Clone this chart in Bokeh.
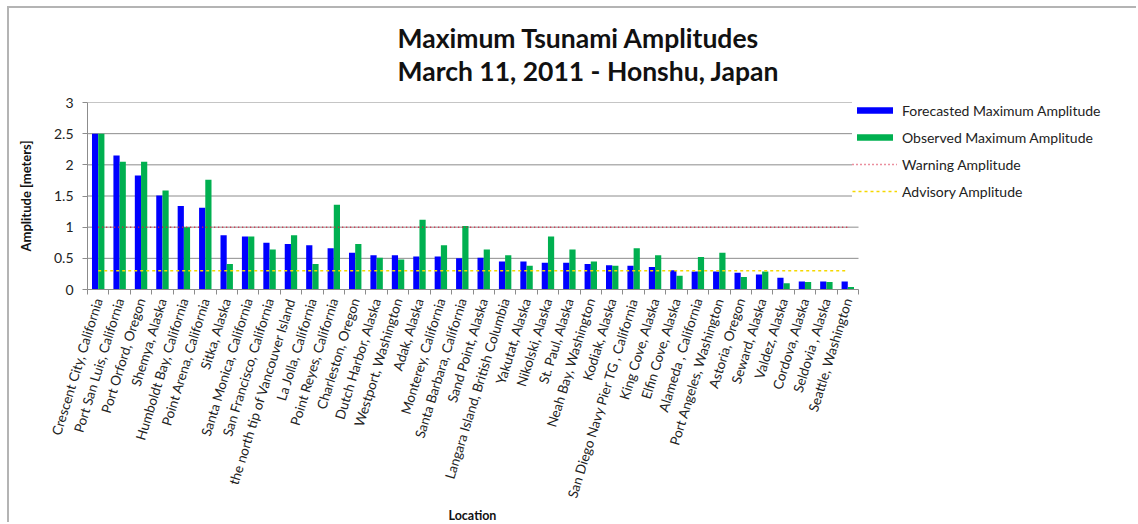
from bokeh.plotting import figure
from bokeh.models import (Range1d, FixedTicker, NumeralTickFormatter, Legend, LegendItem,
                          Title, ColumnDataSource)
from bokeh.transform import dodge
from bokeh.embed import file_html
from bokeh.resources import INLINE

locations = [
    "Crescent City, California", "Port San Luis, California", "Port Orford, Oregon",
    "Shemya, Alaska", "Humboldt Bay, California", "Point Arena, California",
    "Sitka, Alaska", "Santa Monica, California", "San Francisco, California",
    "the north tip of Vancouver Island", "La Jolla, California", "Point Reyes, California",
    "Charleston, Oregon", "Dutch Harbor, Alaska", "Westport, Washington",
    "Adak, Alaska", "Monterey, California", "Santa Barbara, California",
    "Sand Point, Alaska", "Langara Island, British Columbia", "Yakutat, Alaska",
    "Nikolski, Alaska", "St. Paul, Alaska", "Neah Bay, Washington",
    "Kodiak, Alaska", "San Diego Navy Pier TG , California", "King Cove, Alaska",
    "Elfin Cove, Alaska", "Alameda , California", "Port Angeles, Washington",
    "Astoria, Oregon", "Seward, Alaska", "Valdez, Alaska",
    "Cordova, Alaska", "Seldovia , Alaska", "Seattle, Washington",
]
forecasted = [2.50, 2.15, 1.83, 1.51, 1.34, 1.31, 0.87, 0.85, 0.75, 0.73, 0.71, 0.66,
              0.59, 0.55, 0.55, 0.53, 0.53, 0.50, 0.51, 0.45, 0.45, 0.43, 0.43, 0.41,
              0.39, 0.38, 0.36, 0.31, 0.29, 0.29, 0.27, 0.24, 0.19, 0.13, 0.13, 0.13]
observed = [2.50, 2.05, 2.05, 1.59, 1.00, 1.76, 0.41, 0.85, 0.64, 0.87, 0.41, 1.36,
            0.73, 0.51, 0.48, 1.12, 0.71, 1.02, 0.64, 0.55, 0.38, 0.85, 0.64, 0.45,
            0.38, 0.66, 0.55, 0.22, 0.52, 0.59, 0.20, 0.29, 0.10, 0.12, 0.12, 0.04]
warning_amplitude = 1.0
advisory_amplitude = 0.3
y_ticks = [0, 0.5, 1, 1.5, 2, 2.5, 3]
title_lines = ["Maximum Tsunami Amplitudes", "March 11, 2011 - Honshu, Japan"]
x_axis_title = "Location"
y_axis_title = "Amplitude [meters]"

n = len(locations)
idx = list(range(n))
src = ColumnDataSource(dict(
    x=idx, forecasted=forecasted, observed=observed,
    warning=[warning_amplitude] * n, advisory=[advisory_amplitude] * n,
))

FONT = "Lato"
W, H = 1129, 516
LEFT, TOP, BOTTOM = 78, 94, 235
BARS_W = 771          # pixel width occupied by the categories
FRAME_W = W - LEFT    # frame extends to the right edge (legend lives inside it)
x_lo, x_hi = -0.5, n - 0.5

p = figure(width=W, height=H, output_backend="svg", toolbar_location=None,
           x_range=Range1d(x_lo, x_lo + n * FRAME_W / BARS_W), y_range=Range1d(0, 3),
           min_border_left=LEFT, min_border_right=0, min_border_top=TOP,
           min_border_bottom=BOTTOM)
p.styles = {"margin-left": "7px", "margin-top": "6px",
            "border-left": "2px solid #b4b4b4", "border-top": "2px solid #b4b4b4"}
p.outline_line_color = None
p.background_fill_color = "white"
p.border_fill_color = "white"

# horizontal gridlines, limited to the category area
p.xgrid.grid_line_color = None
p.ygrid.grid_line_color = None
p.segment(x0=[x_lo] * len(y_ticks), x1=[x_hi] * len(y_ticks), y0=y_ticks, y1=y_ticks,
          line_color="#8c8c8c", line_width=1)

r_f = p.vbar(x=dodge("x", -0.145), top="forecasted", width=0.29, source=src,
             fill_color="#0000ff", line_color=None)
r_o = p.vbar(x=dodge("x", 0.145), top="observed", width=0.29, source=src,
             fill_color="#00b050", line_color=None)
r_w = p.line(x="x", y="warning", source=src, line_color="#d8203f", line_width=1.5,
             line_dash="1 3")
r_a = p.line(x="x", y="advisory", source=src, line_color="#f5d800", line_width=1.5,
             line_dash="3 3")

# y axis
p.yaxis.ticker = FixedTicker(ticks=y_ticks)
p.yaxis.formatter = NumeralTickFormatter(format="0.[0]")
p.yaxis.axis_line_color = "#8c8c8c"
p.yaxis.major_tick_line_color = "#8c8c8c"
p.yaxis.major_tick_out = 5
p.yaxis.major_tick_in = 0
p.yaxis.minor_tick_line_color = None
p.yaxis.major_label_standoff = 9
p.yaxis.major_label_text_font = FONT
p.yaxis.major_label_text_font_size = "14px"
p.yaxis.major_label_text_color = "#222222"
p.yaxis.axis_label = y_axis_title
p.yaxis.axis_label_text_font = FONT
p.yaxis.axis_label_text_font_style = "bold"
p.yaxis.axis_label_text_font_size = "13px"
p.yaxis.axis_label_text_color = "#111111"
p.yaxis.axis_label_standoff = 17

# x axis
p.xaxis.bounds = (x_lo, x_hi)
p.xaxis.ticker = FixedTicker(ticks=idx, minor_ticks=[i - 0.5 for i in range(n + 1)])
p.xaxis.major_label_overrides = {i: name for i, name in enumerate(locations)}
p.xaxis.major_label_orientation = 1.27
p.xaxis.major_label_standoff = 4
p.xaxis.major_tick_out = 0
p.xaxis.major_tick_in = 0
p.xaxis.minor_tick_out = 5
p.xaxis.minor_tick_in = 0
p.xaxis.minor_tick_line_color = "#8c8c8c"
p.xaxis.axis_line_color = "#8c8c8c"
p.xaxis.major_label_text_font = FONT
p.xaxis.major_label_text_font_size = "13.5px"
p.xaxis.major_label_text_color = "#222222"

# "Location" below the tick labels, centred under the categories
p.add_layout(Title(text=x_axis_title, align="left", offset=361, text_font=FONT,
                   text_font_style="bold", text_font_size="12.5px", text_color="#111111",
                   standoff=0), "below")

# two-line title
p.add_layout(Title(text="\n".join(title_lines), align="left", offset=310, text_font=FONT,
                   text_font_style="bold", text_font_size="26.5px", text_color="#111111",
                   text_line_height=1.06, standoff=26, vertical_align="top"), "above")

legend = Legend(items=[
    LegendItem(label="Forecasted Maximum Amplitude", renderers=[r_f]),
    LegendItem(label="Observed Maximum Amplitude", renderers=[r_o]),
    LegendItem(label="Warning Amplitude", renderers=[r_w]),
    LegendItem(label="Advisory Amplitude", renderers=[r_a]),
], location=(765, 89))
legend.glyph_width = 45
legend.glyph_height = 8
legend.label_height = 18
legend.spacing = 9
legend.padding = 0
legend.margin = 0
legend.label_standoff = 5
legend.label_text_font = FONT
legend.label_text_font_size = "14px"
legend.label_text_color = "#222222"
legend.border_line_color = None
legend.background_fill_color = "white"
legend.background_fill_alpha = 1.0
p.add_layout(legend)

open("out.html", "w").write(file_html(p, INLINE))
